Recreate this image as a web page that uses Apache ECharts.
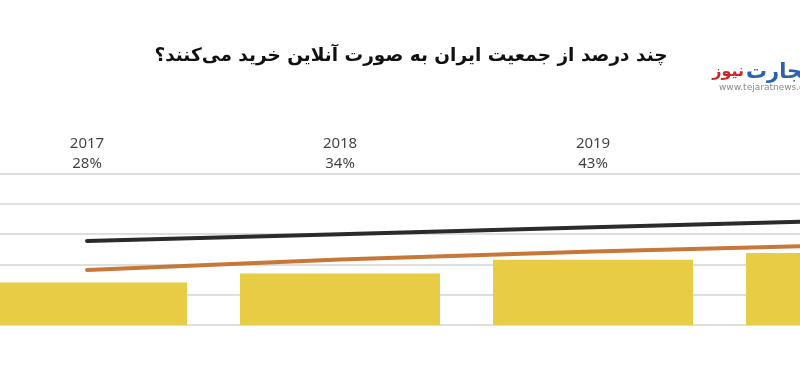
<!DOCTYPE html>
<html>
<head>
<meta charset="utf-8">
<script src="https://cdn.jsdelivr.net/npm/echarts@6/dist/echarts.min.js"></script>
<style>
html,body{margin:0;padding:0;background:#fff;}
#chart{width:800px;height:388px;}
</style>
</head>
<body>
<div id="chart"></div>
<script>
const titleText = 'چند درصد از جمعیت ایران به صورت آنلاین خرید می‌کنند؟';
const years = ['2017', '2018', '2019', '2020'];
const shareLabels = ['28%', '34%', '43%', ''];
const shareValues = [28, 34, 43, 47.5];
const blackLine = [55.4, 59.9, 64.5, 69.0];
const orangeLine = [36.3, 43.2, 48.5, 52.8];

const idx = years.map((y, i) => i);
const chart = echarts.init(document.getElementById('chart'), null, {renderer: 'canvas'});
chart.setOption({
  animation: false,
  backgroundColor: '#ffffff',
  grid: {left: 0, right: 0, top: 173.5, bottom: 63, containLabel: false},
  xAxis: {
    type: 'value',
    min: -0.344,
    max: 2.818,
    axisLine: {show: false},
    axisTick: {show: false},
    splitLine: {show: false},
    axisLabel: {show: false}
  },
  yAxis: {
    type: 'value',
    min: 0,
    max: 100,
    interval: 20,
    axisLabel: {show: false},
    axisLine: {show: false},
    axisTick: {show: false},
    splitLine: {lineStyle: {color: '#dedede', width: 2}}
  },
  series: [
    {
      type: 'bar',
      data: idx.map(i => [i, shareValues[i]]),
      barWidth: 200,
      clip: true,
      itemStyle: {color: '#e8cc45'},
      z: 2
    },
    {
      type: 'line',
      data: idx.map(i => [i, orangeLine[i]]),
      symbol: 'none',
      clip: true,
      lineStyle: {color: '#c8773a', width: 4, cap: 'round'},
      z: 3
    },
    {
      type: 'line',
      data: idx.map(i => [i, blackLine[i]]),
      symbol: 'none',
      clip: true,
      lineStyle: {color: '#2b2b2b', width: 4, cap: 'round'},
      z: 3
    },
    {
      type: 'scatter',
      data: idx.map(i => [i, 100]),
      symbolSize: 0,
      clip: false,
      silent: true,
      label: {
        show: true,
        position: 'top',
        distance: 0,
        color: '#111111',
        fontFamily: 'Noto Sans',
        fontSize: 15,
        lineHeight: 20,
        formatter: function (p) {
          const i = p.dataIndex;
          return years[i] + '\n' + shareLabels[i];
        }
      },
      z: 4
    }
  ],
  graphic: [
    {
      type: 'text',
      x: 411,
      y: 47,
      style: {
        text: titleText,
        fill: '#111111',
        font: 'bold 18.5px "DejaVu Sans"',
        align: 'center'
      }
    },
    {
      type: 'text',
      x: 744,
      y: 64,
      style: {text: 'نیوز', fill: '#d2232a', font: 'bold 16px "DejaVu Sans"', align: 'right'}
    },
    {
      type: 'text',
      x: 746,
      y: 62,
      style: {text: 'تجارت', fill: '#2a62ae', font: 'bold 21px "DejaVu Sans"', align: 'left'}
    },
    {
      type: 'text',
      x: 719,
      y: 83,
      style: {text: 'www.tejaratnews.com', fill: '#8a8a8a', font: '9px "DejaVu Sans"'}
    }
  ]
});
</script>
</body>
</html>
